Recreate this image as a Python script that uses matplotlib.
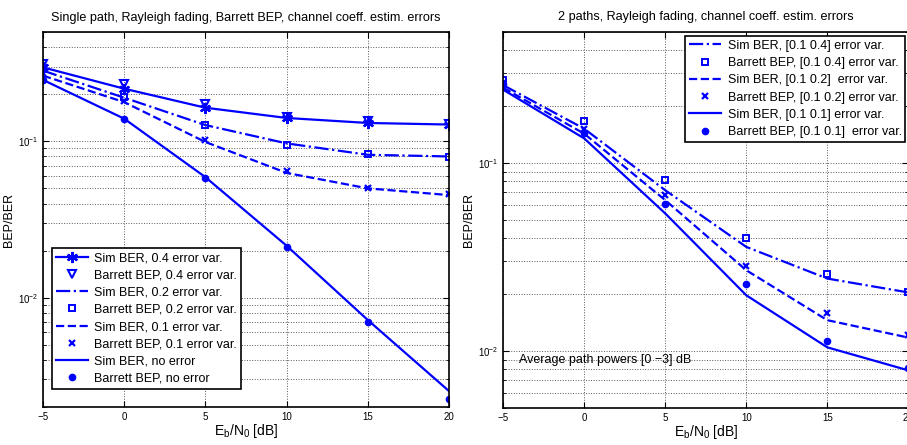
import numpy as np
import matplotlib.pyplot as plt
from matplotlib.ticker import LogLocator, NullFormatter

plt.rcParams['font.family'] = ['Liberation Sans', 'DejaVu Sans']

snr = [-5, 0, 5, 10, 15, 20]

# single path
sim04 = [0.297, 0.217, 0.164, 0.141, 0.131, 0.128]
bep04 = [0.313, 0.231, 0.172, 0.143, 0.134, 0.129]
sim02 = [0.283, 0.190, 0.127, 0.097, 0.082, 0.080]
bep02 = [0.292, 0.193, 0.127, 0.095, 0.0835, 0.0795]
sim01 = [0.263, 0.178, 0.099, 0.0628, 0.050, 0.0453]
bep01 = [0.272, 0.180, 0.102, 0.0647, 0.0502, 0.046]
sim00 = [0.247, 0.1395, 0.059, 0.0215, 0.0072, 0.00253]
bep00 = [0.245, 0.139, 0.058, 0.0212, 0.00696, 0.00224]

# 2 paths
sim2_04 = [0.259, 0.152, 0.0716, 0.0358, 0.0243, 0.0205]
bep2_04 = [0.277, 0.167, 0.081, 0.0397, 0.0256, 0.0206]
sim2_02 = [0.251, 0.143, 0.0634, 0.0269, 0.0146, 0.0118]
bep2_02 = [0.265, 0.152, 0.0673, 0.0284, 0.0159, 0.0122]
sim2_01 = [0.245, 0.135, 0.0539, 0.0198, 0.01047, 0.0079]
bep2_01 = [0.262, 0.144, 0.0604, 0.0226, 0.01135, 0.0081]

left_labels = ['Sim BER, 0.4 error var.', 'Barrett BEP, 0.4 error var.',
               'Sim BER, 0.2 error var.', 'Barrett BEP, 0.2 error var.',
               'Sim BER, 0.1 error var.', 'Barrett BEP, 0.1 error var.',
               'Sim BER, no error', 'Barrett BEP, no error']
right_labels = ['Sim BER, [0.1 0.4] error var.', 'Barrett BEP, [0.1 0.4] error var.',
                'Sim BER, [0.1 0.2]  error var.', 'Barrett BEP, [0.1 0.2] error var.',
                'Sim BER, [0.1 0.1] error var.', 'Barrett BEP, [0.1 0.1]  error var.']

blue = (0, 0, 1)
lw = 1.6

fig = plt.figure(figsize=(9.07, 4.45), dpi=100)
ax1 = fig.add_axes([0.0474, 0.0854, 0.4476, 0.8427])
ax2 = fig.add_axes([0.5549, 0.0838, 0.4465, 0.8454])


def style(ax, ylim):
    ax.set_yscale('log')
    ax.set_xlim(-5, 20)
    ax.set_ylim(*ylim)
    ax.set_xticks(snr)
    ax.set_xticklabels(['\u22125', '0', '5', '10', '15', '20'])
    ax.yaxis.set_major_locator(LogLocator(base=10, numticks=10))
    ax.yaxis.set_minor_locator(LogLocator(base=10, subs=np.arange(2, 10), numticks=10))
    ax.yaxis.set_minor_formatter(NullFormatter())
    ax.tick_params(which='both', direction='in', top=True, right=True, labelsize=7)
    ax.tick_params(which='major', length=4)
    ax.tick_params(which='minor', length=2)
    ax.grid(True, which='major', linestyle=':', color='0.35', lw=0.7)
    ax.grid(True, which='minor', axis='y', linestyle=':', color='0.35', lw=0.7)
    for s in ax.spines.values():
        s.set_linewidth(1.2)
    ax.set_xlabel('E$_\\mathregular{b}$/N$_\\mathregular{0}$ [dB]', fontsize=10, labelpad=0)
    ax.set_ylabel('BEP/BER', fontsize=9)
    ax.yaxis.set_label_coords(-0.069, 0.5)


# matlab-like asterisk marker
ast = (6, 2, 0)

ax1.plot(snr, sim04, '-', marker=ast, color=blue, lw=lw, ms=8, mew=1.6)
ax1.plot(snr, bep04, 'v', color=blue, mfc='none', mew=1.5, ms=6)
ax1.plot(snr, sim02, '-.', color=blue, lw=lw)
ax1.plot(snr, bep02, 's', color=blue, mfc='none', mew=1.4, ms=5)
ax1.plot(snr, sim01, '--', color=blue, lw=lw)
ax1.plot(snr, bep01, 'x', color=blue, mew=1.6, ms=4)
ax1.plot(snr, sim00, '-', color=blue, lw=lw)
ax1.plot(snr, bep00, 'o', color=blue, ms=4.5)
style(ax1, (0.002, 0.5))
ax1.set_title('Single path, Rayleigh fading, Barrett BEP, channel coeff. estim. errors', fontsize=9.1, pad=8)
leg1 = ax1.legend(left_labels, loc='upper left', bbox_to_anchor=(0.022, 0.423),
                  fontsize=9, fancybox=False, edgecolor='black', framealpha=1,
                  handlelength=2.6, handletextpad=0.5, labelspacing=0.42, borderpad=0.3,
                  borderaxespad=0)
leg1.get_frame().set_linewidth(1.2)

ax2.plot(snr, sim2_04, '-.', color=blue, lw=lw)
ax2.plot(snr, bep2_04, 's', color=blue, mfc='none', mew=1.4, ms=5)
ax2.plot(snr, sim2_02, '--', color=blue, lw=lw)
ax2.plot(snr, bep2_02, 'x', color=blue, mew=1.6, ms=4)
ax2.plot(snr, sim2_01, '-', color=blue, lw=lw)
ax2.plot(snr, bep2_01, 'o', color=blue, ms=4.5)
style(ax2, (0.005, 0.5))
ax2.set_title('2 paths, Rayleigh fading, channel coeff. estim. errors', fontsize=9.1, pad=8)
ax2.text(-4.03, 0.0090, 'Average path powers [0 \u22123] dB', fontsize=9, va='center', ha='left')
leg2 = ax2.legend(right_labels, loc='upper right', bbox_to_anchor=(0.993, 0.988),
                  fontsize=9, fancybox=False, edgecolor='black', framealpha=1,
                  handlelength=2.6, handletextpad=0.5, labelspacing=0.42, borderpad=0.3,
                  borderaxespad=0)
leg2.get_frame().set_linewidth(1.2)

fig.savefig('out.png', dpi=100)
